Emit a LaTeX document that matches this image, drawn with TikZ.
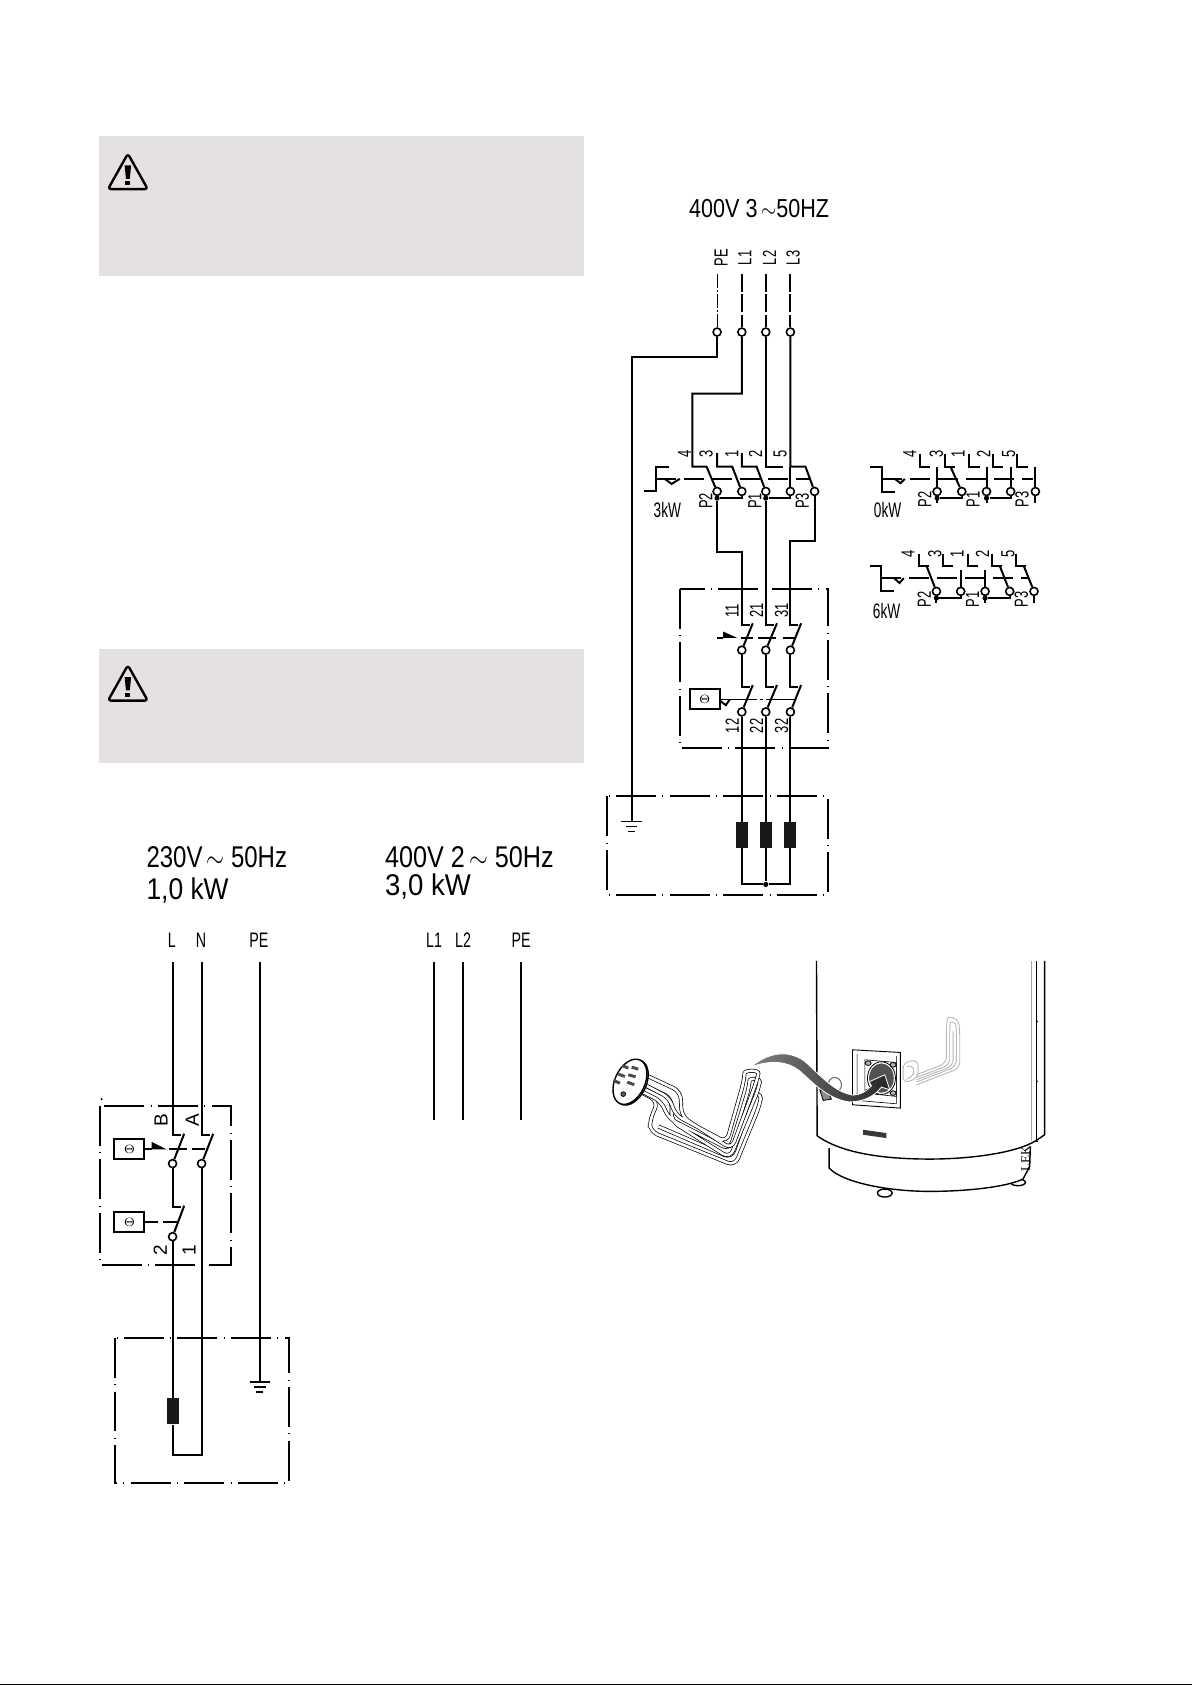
\documentclass[tikz,border=0pt]{standalone}
\usepackage{graphicx}
\usepackage{amsmath}
\usepackage{fontspec}
\setmainfont{Liberation Sans}
\newfontfamily\tankfont{Liberation Serif}
\newcommand{\nar}[2][.68]{\scalebox{#1}[1]{#2}}

\tikzset{
	wire/.style = {line width=1pt},
	chain/.style = {line width=1pt,dash pattern=on 20pt off 3.2pt on .4pt off 3.2pt},
	act/.style = {line width=1pt,dash pattern=on 10pt off 4pt},
	feed/.style = {line width=1pt,dash pattern=on 9pt off 1.2pt},
	thinfeed/.style = {line width=.5pt,dash pattern=on 7pt off 1pt on 1pt off 1pt},
	term/.style = {circle,draw,line width=.8pt,fill=white,inner sep=0pt,minimum size=4pt},
	jn/.style = {circle,fill,inner sep=0pt,minimum size=2.6pt},
	thermo/.style = {rectangle,draw,line width=.9pt,inner sep=0pt,minimum width=15pt,minimum height=10pt,font=\fontsize{6}{6}\selectfont},
	heater/.style = {rectangle,fill=black!90,inner sep=0pt,minimum width=6pt,minimum height=13pt},
	titletxt/.style = {inner sep=0pt,anchor=west,font=\fontsize{15}{15}\selectfont},
	lab/.style = {inner sep=0pt,font=\fontsize{10.5}{10.5}\selectfont},
	vlab/.style = {inner sep=0pt,rotate=90,font=\fontsize{9.5}{9.5}\selectfont},
	warnbox/.style = {fill=warngrey},
	tube/.style = {draw=black,line width=.35pt,double=white,double distance=1.3pt,rounded corners=4pt},
	ghost/.style = {draw=black!28,line width=.45pt,rounded corners=3pt},
	tank/.style = {line width=.7pt},
	warnsign/.pic = {
		\draw[line width=1.2pt,rounded corners=1.5pt,line join=round] (0,-17) -- (18.5,16) -- (-18.5,16) -- cycle;
		\fill (-3,-6) -- (3,-6) -- (1.8,6.5) -- (-1.8,6.5) -- cycle;
		\fill (-2.4,8.5) rectangle (2.4,12.5);
	},
	earth/.pic = {
		\draw[line width=.9pt] (-9.5,0) -- (9.5,0);
		\draw[line width=.7pt] (-5.5,4.8) -- (5.5,4.8);
		\draw[line width=.6pt] (-3.2,9.4) -- (3.2,9.4);
	}
}
\definecolor{warngrey}{HTML}{E5E1E0}

\begin{document}
\begin{tikzpicture}[x=.53742pt,y=-.53742pt]
	\useasboundingbox (0,0) rectangle (1109,1568);
	\fill (0,1566.6) rectangle (1109,1568);

	% warning panels
	\fill[warnbox] (92,127) rectangle (543,257);
	\fill[warnbox] (92,604) rectangle (543,710);
	\pic at (119,160) {warnsign};
	\pic at (119,636) {warnsign};

	% single phase
	\node[titletxt] (t1) at (136,798) {\nar[.80]{230V$\,\sim$ 50Hz}};
	\node[titletxt] (t2) at (136,829) {\nar[.88]{1,0 kW}};
	\node[titletxt] (t3) at (358,798) {\nar[.84]{400V 2$\,\sim$ 50Hz}};
	\node[titletxt] (t4) at (358,825) {\nar[.92]{3,0 kW}};

	\node[lab] (L) at (160,875) {\nar{L}};
	\node[lab] (N) at (187,875) {\nar{N}};
	\node[lab] (PE) at (241,875) {\nar{PE}};
	\node[lab] (L1) at (404,875) {\nar{L1}};
	\node[lab] (L2) at (431,875) {\nar{L2}};
	\node[lab] (PEb) at (485,875) {\nar{PE}};

	\coordinate (L top) at (160.6,895);
	\coordinate (N top) at (187.6,895);
	\coordinate (PE top) at (241.8,895);
	\coordinate (PE end) at (241.8,1286);
	\coordinate (L1 top) at (404,895);
	\coordinate (L1 end) at (404,1042);
	\coordinate (L2 top) at (431,895);
	\coordinate (L2 end) at (431,1042);
	\coordinate (PEb top) at (485,895);
	\coordinate (PEb end) at (485,1042);

	\draw[wire] (L1 top) -- (L1 end);
	\draw[wire] (L2 top) -- (L2 end);
	\draw[wire] (PEb top) -- (PEb end);
	\draw[wire] (PE top) -- (PE end);
	\pic at (PE end) {earth};

	\draw[chain] (93,1029) rectangle (215,1177);
	\draw[chain] (107,1245) rectangle (269,1380);
	\fill (94.6,1022.8) circle (.6pt);

	\node[term] (a1) at (160.6,1082.8) {};
	\node[term] (a2) at (187.6,1082.8) {};
	\node[term] (a3) at (160.6,1150.8) {};
	\node[thermo] (th1) at (120.4,1069.5) {$\Theta$};
	\node[thermo] (th2) at (120.4,1137.5) {$\Theta$};
	\node[heater] (he1) at (160.6,1313.3) {};
	\node[vlab] (B) at (150,1042) {B};
	\node[vlab] (A) at (179,1042) {A};
	\node[vlab] (n2) at (149,1163) {2};
	\node[vlab] (n1) at (176,1163) {1};

	\coordinate (b1) at (171.4,1055);
	\coordinate (b2) at (198.4,1055);
	\coordinate (b3) at (171.4,1122);
	\draw[wire] (L top) |- (168,1056);
	\draw[wire] (N top) |- (195,1056);
	\draw[wire] (b1) -- (a1);
	\draw[wire] (b2) -- (a2);
	\draw[wire] (a1) |- (168,1122.8);
	\draw[wire] (b3) -- (a3);
	\draw[wire] (a3) -- (he1);
	\draw[wire] (he1) |- (187.6,1353.8) -- (a2);

	\draw[wire] (th1) -- (141,1069.5);
	\fill (141,1062.5) -- (155,1069.5) -- (141,1069.5) -- cycle;
	\draw[wire] (157,1069.5) -- (173.6,1069.5);
	\draw[wire] (179,1069.5) -- (190.6,1069.5);
	\draw[wire] (th2) -- (147.3,1137.5);
	\draw[wire] (152,1137.5) -- (166,1137.5);

	% three phase
	\node[titletxt] (t5) at (641,194) {\fontsize{13}{13}\selectfont\nar[.83]{400V 3$\,\sim$50HZ}};
	\node[vlab] (rPE) at (671,240) {\nar{PE}};
	\node[vlab] (rL1) at (693,240) {\nar{L1}};
	\node[vlab] (rL2) at (716,240) {\nar{L2}};
	\node[vlab] (rL3) at (738,240) {\nar{L3}};

	\coordinate (fPE) at (667.3,255);
	\coordinate (fL1) at (690.3,255);
	\coordinate (fL2) at (712.6,255);
	\coordinate (fL3) at (735.5,255);
	\node[term] (tPE) at (667.3,309) {};
	\node[term] (tL1) at (690.3,309) {};
	\node[term] (tL2) at (712.6,309) {};
	\node[term] (tL3) at (735.5,309) {};
	\draw[thinfeed] (fPE) -- (tPE);
	\draw[feed] (fL1) -- (tL1);
	\draw[feed] (fL2) -- (tL2);
	\draw[feed] (fL3) -- (tL3);

	\coordinate (pe a) at (587.7,332);
	\coordinate (pe b) at (587.7,764.4);
	\draw[wire] (tPE) |- (pe a) -- (pe b);
	\pic at (pe b) {earth};

	% selector 3kW
	\node[term] (s1) at (667.3,457.3) {};
	\node[term] (s2) at (690.3,457.3) {};
	\node[term] (s3) at (712.6,457.3) {};
	\node[term] (s4) at (735.5,457.3) {};
	\node[term] (s5) at (758,457.3) {};
	\node[jn] (j1) at (667.3,463.5) {};
	\node[jn] (j2) at (712.6,463.5) {};
	\coordinate (k1) at (690.3,463.5);
	\coordinate (k2) at (735.5,463.5);
	\node[vlab] (no4) at (637,422) {\nar{4}};
	\node[vlab] (no3) at (657,422) {\nar{3}};
	\node[vlab] (no1) at (681,422) {\nar{1}};
	\node[vlab] (no2) at (703,422) {\nar{2}};
	\node[vlab] (no5) at (726,422) {\nar{5}};
	\node[vlab] (P2) at (656.8,466) {\nar{P2}};
	\node[vlab] (P1) at (702.4,466) {\nar{P1}};
	\node[vlab] (P3) at (746.7,466) {\nar{P3}};
	\node[lab] (kw3) at (621,475) {\nar[.65]{3kW}};

	\coordinate (w1) at (690.3,366.2);
	\coordinate (w2) at (644.4,434.1);
	\coordinate (w3) at (657.4,434.1);
	\draw[wire] (tL1) -- (w1) -| (w2) -- (w3) -- (s1);
	\draw[wire] (667.3,421.7) |- (681.3,434.1) -- (s2);
	\draw[wire] (690.3,421.7) |- (704,434.1) -- (s3);
	\draw[wire] (tL2) |- (728.7,434.1);
	\coordinate (w4) at (735.5,434.1);
	\draw[wire] (tL3) -- (w4) -- (749.5,434.1) -- (s5);
	\draw[wire] (w4) -- (s4);
	\draw[wire] (s1) -- (j1) -- (k1) -- (s2);
	\draw[wire] (s3) -- (j2) -- (k2) -- (s4);
	\draw[wire] (599,457.3) -- (610.9,457.3) -- (610.9,434.1) -- (622.4,434.1);
	\draw[wire] (618.6,445.6) -- (625,450.3) -- (632.6,445.6);
	\draw[act] (610.9,445.6) -- (755,445.6);

	% breaker box
	\draw[chain] (633.2,547.7) rectangle (770.5,696);
	\node[term] (c1) at (690.3,605) {};
	\node[term] (c2) at (712.6,605) {};
	\node[term] (c3) at (735.5,605) {};
	\node[term] (d1) at (690.3,662.5) {};
	\node[term] (d2) at (712.6,662.5) {};
	\node[term] (d3) at (735.5,662.5) {};
	\node[vlab] (q11) at (681.3,568.7) {\nar{11}};
	\node[vlab] (q21) at (704,568) {\nar{21}};
	\node[vlab] (q31) at (727.2,568) {\nar{31}};
	\node[vlab] (q12) at (681.3,675.5) {\nar{12}};
	\node[vlab] (q22) at (704,675.5) {\nar{22}};
	\node[vlab] (q32) at (727.2,675.5) {\nar{32}};
	\node[thermo] (th3) at (655.8,650.8) {$\Theta$};

	\coordinate (up1) at (690.3,581.8);
	\coordinate (up2) at (712.6,581.8);
	\coordinate (up3) at (735.5,581.8);
	\coordinate (lo1) at (690.3,639);
	\coordinate (lo2) at (712.6,639);
	\coordinate (lo3) at (735.5,639);
	\draw[wire] (j1) |- (690.3,514) -- (up1) -- (698,581.8);
	\draw[wire] (j2) -- (up2) -- (720.5,581.8);
	\draw[wire] (s5) |- (735.5,503) -- (up3) -- (743,581.8);
	\draw[wire] (700.5,580) -- (c1);
	\draw[wire] (723,580) -- (c2);
	\draw[wire] (745.5,580) -- (c3);
	\draw[wire] (c1) -- (lo1) -- (698,639);
	\draw[wire] (c2) -- (lo2) -- (720.5,639);
	\draw[wire] (c3) -- (lo3) -- (743,639);
	\draw[wire] (700.5,637.5) -- (d1);
	\draw[wire] (723,637.5) -- (d2);
	\draw[wire] (745.5,637.5) -- (d3);

	\draw[wire] (667.3,593.6) -- (673,593.6);
	\fill (673,587.7) -- (686,593.6) -- (673,593.6) -- cycle;
	\draw[wire] (690,593.6) -- (701,593.6);
	\draw[wire] (705.5,593.6) -- (722.5,593.6);
	\draw[wire] (728.7,593.6) -- (741,593.6);
	\draw[line width=.5pt,dash pattern=on 18pt off 1.5pt on 1.5pt off 1.5pt] (th3) -- (741,650.8);
	\draw[wire] (670,652) -- (675.4,656.2) -- (679,651);

	% heaters
	\draw[chain] (565,741) rectangle (770.5,832.5);
	\node[heater] (h1) at (690.3,777) {};
	\node[heater] (h2) at (712.6,777) {};
	\node[heater] (h3) at (735.5,777) {};
	\node[jn] (j3) at (712.6,823) {};
	\draw[wire] (d1) -- (h1);
	\draw[wire] (d2) -- (h2);
	\draw[wire] (d3) -- (h3);
	\draw[wire] (h1) |- (j3);
	\draw[wire] (h2) -- (j3);
	\draw[wire] (h3) |- (j3);

	% selector 0kW
	\node[term] (e1) at (872,457.4) {};
	\node[term] (e2) at (895,457.4) {};
	\node[term] (e3) at (918,457.4) {};
	\node[term] (e4) at (940.5,457.4) {};
	\node[term] (e5) at (963.5,457.4) {};
	\node[jn] (e6) at (872,463.5) {};
	\node[jn] (e7) at (918,463.5) {};
	\node[vlab] (o4) at (846.6,422.3) {\nar{4}};
	\node[vlab] (o3) at (871.4,422.3) {\nar{3}};
	\node[vlab] (o1) at (891.6,422.3) {\nar{1}};
	\node[vlab] (o2) at (915.4,422.3) {\nar{2}};
	\node[vlab] (o5) at (938.7,422.3) {\nar{5}};
	\node[vlab] (oP2) at (860.6,465) {\nar{P2}};
	\node[vlab] (oP1) at (905.5,465) {\nar{P1}};
	\node[vlab] (oP3) at (951,465) {\nar{P3}};
	\node[lab] (kw0) at (826,475) {\nar[.65]{0kW}};
	\draw[wire] (810,434.1) -- (821.2,434.1) -- (821.2,457.4) -- (832.7,457.4);
	\draw[wire] (832.7,445.6) -- (837.9,449.6) -- (842,445.6);
	\draw[act] (821.2,445.6) -- (961.3,445.6);
	\draw[wire] (855.9,422.3) |- (865.2,434.1);
	\draw[wire] (879,422.3) |- (888.5,434.1);
	\draw[wire] (901.8,422.3) |- (911.7,434.1);
	\draw[wire] (924,422.3) |- (933.4,434.1);
	\draw[wire] (946.7,422.3) |- (956.6,434.1);
	\draw[wire] (872,434.1) -- (e1);
	\draw[wire] (884.4,434.1) -- (e2);
	\draw[wire] (918,434.1) -- (e3);
	\draw[wire] (940.5,434.1) -- (e4);
	\draw[wire] (963.5,434.1) -- (e5);
	\draw[wire] (e1) -- (872,468);
	\draw[wire] (e3) -- (918,468);
	\draw[wire] (e5) -- (963.5,468);
	\draw[wire] (e6) -| (e2);
	\draw[wire] (e7) -| (e4);

	% selector 6kW
	\node[term] (g1) at (871.4,550.3) {};
	\node[term] (g2) at (894,550.3) {};
	\node[term] (g3) at (916.7,550.3) {};
	\node[term] (g4) at (939.6,550.3) {};
	\node[term] (g5) at (962.2,550.3) {};
	\node[jn] (g6) at (871.4,556.5) {};
	\node[jn] (g7) at (916.7,556.5) {};
	\node[vlab] (x4) at (845,515.5) {\nar{4}};
	\node[vlab] (x3) at (870,515.5) {\nar{3}};
	\node[vlab] (x1) at (890.6,515.5) {\nar{1}};
	\node[vlab] (x2) at (914.2,515.5) {\nar{2}};
	\node[vlab] (x5) at (938,515.5) {\nar{5}};
	\node[vlab] (xP2) at (860,558) {\nar{P2}};
	\node[vlab] (xP1) at (905,558) {\nar{P1}};
	\node[vlab] (xP3) at (950.5,558) {\nar{P3}};
	\node[lab] (kw6) at (825,569) {\nar[.65]{6kW}};
	\draw[wire] (809.4,526.5) -- (820.2,526.5) -- (820.2,550.3) -- (832,550.3);
	\draw[wire] (832,538) -- (837,542.5) -- (841,538);
	\draw[act] (820.2,538) -- (958,538);
	\draw[wire] (855,515.3) |- (864.3,526.5);
	\draw[wire] (877.6,515.3) |- (886.9,526.5);
	\draw[wire] (900.9,515.3) |- (910.2,526.5);
	\draw[wire] (923.2,515.3) |- (932.8,526.5);
	\draw[wire] (945.8,515.3) |- (955.1,526.5);
	\draw[wire] (862.1,526.5) -- (g1);
	\draw[wire] (894,530) -- (g2);
	\draw[wire] (916.7,530) -- (g3);
	\draw[wire] (930.3,526.5) -- (g4);
	\draw[wire] (952.6,526.5) -- (g5);
	\draw[wire] (g1) -- (871.4,561);
	\draw[wire] (g3) -- (916.7,561);
	\draw[wire] (g5) -- (962.2,561);
	\draw[wire] (g6) -| (g2);
	\draw[wire] (g7) -| (g4);

	% tank and immersion heater
	\begin{scope}[shift={(549,883.9)},x=.1666pt,y=-.1666pt]
		\draw[tank,fill=white] (885,730) ellipse [x radius=22,y radius=12];
		\draw[tank,fill=white] (1285,698) ellipse [x radius=22,y radius=10];
		\draw[tank,fill=white] (718,595) -- (718,655) .. controls (760,700) and (900,725) .. (1020,725) .. controls (1130,725) and (1250,712) .. (1300,688) -- (1320,650) -- (1322,590);
		\draw[tank,fill=white] (680,33) -- (682,558) .. controls (760,615) and (900,628) .. (1020,628) .. controls (1140,628) and (1280,610) .. (1340,572) -- (1365,555) -- (1365,33);
		\draw[tank] (1340,33) -- (1340,572);
		\draw[draw=black!35,line width=.4pt] (1326,33) -- (1326,575);
		\fill (1342,215) circle (3);
		\fill (1342,395) circle (3);
		\fill (1342,575) circle (3);
		\fill[black!78] (820,540) -- (890,550) -- (890,565) -- (820,555) -- cycle;
		\node[inner sep=0pt,rotate=90,font=\tankfont\fontsize{6.5}{6.5}\selectfont] (brand) at (1308,628) {LEK};

		\draw[ghost] (940,338) -- (985,330) -- (985,385) -- (940,400) -- cycle;
		\draw[ghost] (950,350) -- (972,345) -- (972,380) -- (950,388);
		\draw[ghost] (980,405) -- (1110,355) -- (1110,240) .. controls (1105,205) and (1075,195) .. (1070,225) -- (1070,340) -- (980,375);
		\draw[ghost] (980,397) -- (1100,350) -- (1100,240) .. controls (1097,220) and (1082,215) .. (1080,235) -- (1080,345) -- (980,383);
		\draw[ghost] (980,390) -- (1090,348) -- (1090,245);

		\draw[line width=.5pt,draw=black!60] (735,405) ellipse [x radius=20,y radius=22];
		\draw[line width=.4pt,fill=black!45] (690,420) -- (715,430) -- (725,448) -- (700,452) -- cycle;

		\draw[line width=.45pt,fill=white] (788,300) -- (932,308) -- (932,475) -- (788,465) -- cycle;
		\draw[line width=.3pt] (802,312) -- (802,452) -- (920,462) -- (920,318);
		\draw[line width=.3pt] (825,330) -- (920,338) -- (920,440) -- (825,430) -- cycle;
		\draw[line width=.4pt,fill=white] (875,385) ellipse [x radius=42,y radius=49];
		\fill[black!68] (875,385) ellipse [x radius=37,y radius=44];
		\draw[line width=.4pt,fill=black!30] (835,340) ellipse [x radius=9,y radius=7];
		\draw[line width=.4pt,fill=black!30] (910,345) ellipse [x radius=9,y radius=7];
		\draw[line width=.4pt,fill=black!30] (835,425) ellipse [x radius=9,y radius=7];
		\draw[line width=.4pt,fill=black!30] (910,430) ellipse [x radius=9,y radius=7];

		\path[draw=white,line width=.4pt,left color=black!50,right color=black!85] (482,352) .. controls (530,312) and (590,295) .. (645,335) .. controls (695,380) and (735,428) .. (790,436) .. controls (810,436) and (830,425) .. (845,408) -- (838,396) -- (885,375) -- (900,420) -- (875,412) .. controls (850,445) and (810,458) .. (775,456) .. controls (715,446) and (675,405) .. (635,368) .. controls (595,332) and (540,330) .. (482,352) -- cycle;

		\draw[tube] (140,420) -- (205,455) -- (180,510) -- (180,545) -- (435,648) -- (508,470) .. controls (515,435) and (490,425) .. (485,450) -- (425,625) -- (205,530);
		\draw[tube] (150,400) -- (245,445) -- (245,515) -- (420,625) -- (505,420) .. controls (512,385) and (480,385) .. (477,415) -- (420,600) -- (235,505) -- (215,455) -- (135,415);
		\draw[tube] (165,375) -- (272,425) -- (275,500) -- (425,598) -- (500,395) .. controls (508,360) and (465,360) .. (462,395) -- (410,578) -- (255,495) -- (240,445) -- (145,395);

		\draw[tank,fill=white,rotate around={-25:(124,398)}] (124,398) ellipse [x radius=45,y radius=72];
		\draw[tank,fill=white,rotate around={-25:(120,396)}] (120,396) ellipse [x radius=45,y radius=72];
		\draw[line width=1.5pt,black!70] (97,347) -- (115,355);
		\draw[line width=1.5pt,black!70] (125,352) -- (145,358);
		\draw[line width=1.5pt,black!70] (85,373) -- (105,380);
		\draw[line width=1.5pt,black!70] (115,375) -- (137,381);
		\draw[line width=1.5pt,black!70] (70,392) -- (90,400);
		\draw[line width=1.5pt,black!70] (112,397) -- (133,405);
		\draw[line width=.4pt,fill=black!60] (100,433) circle (7);
	\end{scope}
\end{tikzpicture}
\end{document}
